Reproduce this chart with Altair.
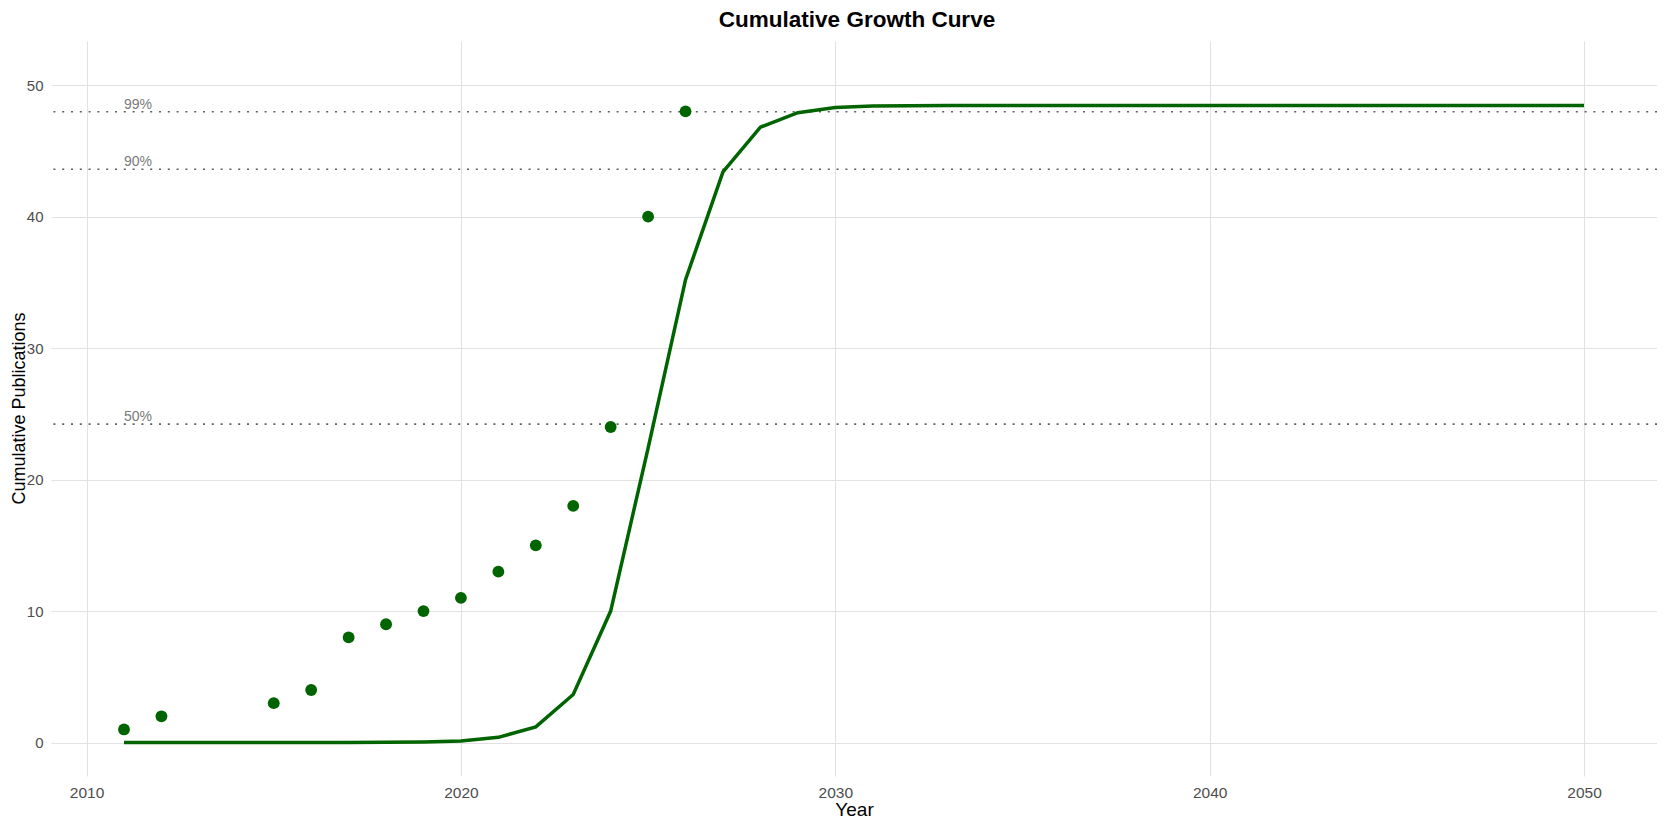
import altair as alt
import pandas as pd

# observed cumulative publications
obs_years = [2011, 2012, 2015, 2016, 2017, 2018, 2019, 2020, 2021, 2022, 2023, 2024, 2025, 2026]
obs_cum = [1, 2, 3, 4, 8, 9, 10, 11, 13, 15, 18, 24, 40, 48]

# fitted growth curve
fit_years = [2011, 2012, 2013, 2014, 2015, 2016, 2017, 2018, 2019, 2020,
             2021, 2022, 2023, 2024, 2025, 2026, 2027, 2028, 2029, 2030,
             2031, 2032, 2033, 2034, 2035, 2036, 2037, 2038, 2039, 2040,
             2041, 2042, 2043, 2044, 2045, 2046, 2047, 2048, 2049, 2050]
fit_cum = [0.0, 0.0, 0.0, 0.0, 0.0, 0.01, 0.01, 0.02, 0.05, 0.13,
           0.4, 1.2, 3.66, 10.0, 22.4, 35.2, 43.4, 46.8, 47.9, 48.3,
           48.4, 48.43, 48.45, 48.45, 48.45, 48.45, 48.45, 48.45, 48.45, 48.45,
           48.45, 48.45, 48.45, 48.45, 48.45, 48.45, 48.45, 48.45, 48.45, 48.45]

# saturation reference levels
ref_labels = ["99%", "90%", "50%"]
ref_levels = [47.97, 43.6, 24.22]
ref_label_x = [2011, 2011, 2011]

title_text = ["Cumulative Growth Curve"]

obs = pd.DataFrame({"Year": obs_years, "Cumulative": obs_cum})
fit = pd.DataFrame({"Year": fit_years, "Cumulative": fit_cum})
refs = pd.DataFrame({"level": ref_levels, "label": ref_labels, "x": ref_label_x})
title_df = pd.DataFrame({"t": title_text})

green = "#006400"
font = "Liberation Sans"

x_scale = alt.Scale(domain=[2009.05, 2051.95], nice=False, zero=False)
y_scale = alt.Scale(domain=[-2.54, 53.35], nice=False, zero=False)

x_axis = alt.Axis(values=[2010, 2020, 2030, 2040, 2050], format="d", title="Year",
                  labelPadding=9, titlePadding=0, labelFontSize=15.5, titleFontSize=19)
y_axis = alt.Axis(values=[0, 10, 20, 30, 40, 50], title="Cumulative Publications",
                  labelPadding=8, labelFontSize=15, titleFontSize=18,
                  titleX=-26.7, titleY=367, titleBaseline="alphabetic",
                  titleAlign="center", titleAngle=270)

rules = alt.Chart(refs).mark_rule(
    color="#5e5e5e", strokeWidth=1.6, strokeDash=[2, 6.8]
).encode(y=alt.Y("level:Q", scale=y_scale, axis=y_axis))

ref_text = alt.Chart(refs).mark_text(
    align="left", baseline="alphabetic", dy=-3, fontSize=14, color="#7a7a7a", font=font
).encode(
    x=alt.X("x:Q", scale=x_scale, axis=x_axis),
    y=alt.Y("level:Q", scale=y_scale, axis=y_axis),
    text="label:N",
)

curve = alt.Chart(fit).mark_line(color=green, strokeWidth=3.5).encode(
    x=alt.X("Year:Q", scale=x_scale, axis=x_axis),
    y=alt.Y("Cumulative:Q", scale=y_scale, axis=y_axis),
)

dots = alt.Chart(obs).mark_circle(size=140, color=green, opacity=1).encode(
    x=alt.X("Year:Q", scale=x_scale, axis=x_axis),
    y=alt.Y("Cumulative:Q", scale=y_scale, axis=y_axis),
)

# chart title drawn as a text mark so it sits where the reference has it
title = alt.Chart(title_df).mark_text(
    fontSize=22.5, fontWeight="bold", font=font, color="black",
    align="center", baseline="alphabetic",
).encode(x=alt.value(806), y=alt.value(-14.3), text="t:N")

chart = (
    alt.layer(rules, ref_text, curve, dots, title)
    .properties(
        width=1606,
        height=735,
        padding={"left": 43, "top": 33, "right": 0, "bottom": 44},
        autosize=alt.AutoSizeParams(type="none"),
        background="white",
    )
    .configure_view(stroke=None)
    .configure_axis(
        grid=True, gridColor="#e2e2e2", gridWidth=1, domain=False, ticks=False,
        labelFont=font, labelColor="#4d4d4d",
        titleFont=font, titleFontWeight="normal", titleColor="black",
    )
)

chart.save("out.html", embed_options={"renderer": "svg", "actions": False})
